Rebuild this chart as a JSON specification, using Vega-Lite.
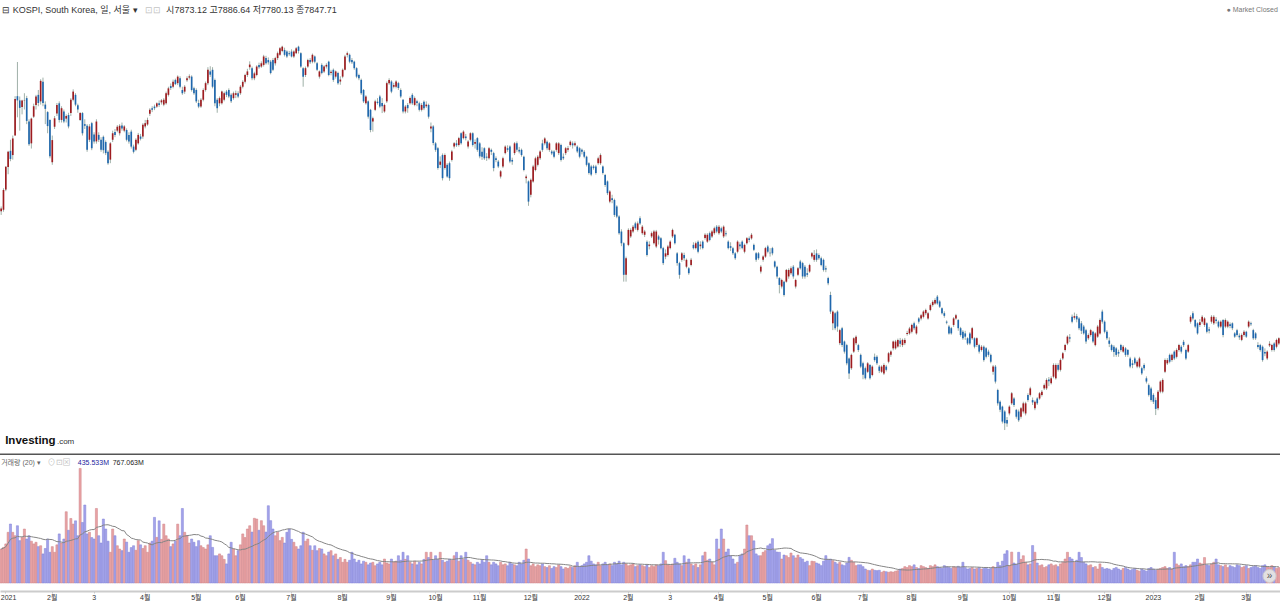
{
  "$schema": "https://vega.github.io/schema/vega-lite/v6.json",
  "description": "KOSPI daily candles with volume and 20-day volume average",
  "width": 1280,
  "height": 591,
  "autosize": "none",
  "padding": {"left": 0, "top": 0, "right": 0, "bottom": 12},
  "background": "#ffffff",
  "config": {"view": {"stroke": null}, "font": "Liberation Sans, Noto Sans CJK KR, sans-serif"},
  "data": {
    "values": [
      {"d":"2020-12-29","o":2807,"h":2822,"l":2796,"c":2816,"v":1870},
      {"d":"2020-12-30","o":2812,"h":2878,"l":2806,"c":2873,"v":1960},
      {"d":"2021-01-04","o":2874,"h":2946,"l":2869,"c":2944,"v":2150},
      {"d":"2021-01-05","o":2943,"h":2993,"l":2921,"c":2990,"v":2788},
      {"d":"2021-01-06","o":2993,"h":3027,"l":2961,"c":2968,"v":3245},
      {"d":"2021-01-07","o":2980,"h":3040,"l":2966,"c":3031,"v":2788},
      {"d":"2021-01-08","o":3040,"h":3161,"l":3040,"c":3152,"v":2600},
      {"d":"2021-01-11","o":3161,"h":3266,"l":3096,"c":3148,"v":3150},
      {"d":"2021-01-12","o":3148,"h":3160,"l":3055,"c":3125,"v":2330},
      {"d":"2021-01-13","o":3128,"h":3150,"l":3105,"c":3148,"v":2500},
      {"d":"2021-01-14","o":3148,"h":3170,"l":3120,"c":3149,"v":2970},
      {"d":"2021-01-15","o":3155,"h":3162,"l":3075,"c":3085,"v":2420},
      {"d":"2021-01-18","o":3083,"h":3090,"l":3008,"c":3013,"v":2600},
      {"d":"2021-01-19","o":3016,"h":3095,"l":3000,"c":3092,"v":2300},
      {"d":"2021-01-20","o":3098,"h":3138,"l":3094,"c":3130,"v":2150},
      {"d":"2021-01-21","o":3134,"h":3165,"l":3120,"c":3160,"v":2240},
      {"d":"2021-01-22","o":3165,"h":3180,"l":3130,"c":3140,"v":2000},
      {"d":"2021-01-25","o":3145,"h":3213,"l":3135,"c":3208,"v":2050},
      {"d":"2021-01-26","o":3205,"h":3218,"l":3130,"c":3140,"v":1600},
      {"d":"2021-01-27","o":3135,"h":3145,"l":3075,"c":3122,"v":1900},
      {"d":"2021-01-28","o":3112,"h":3115,"l":3047,"c":3069,"v":2420},
      {"d":"2021-01-29","o":3088,"h":3090,"l":2970,"c":2976,"v":1690},
      {"d":"2021-02-01","o":2958,"h":3040,"l":2950,"c":3026,"v":2000},
      {"d":"2021-02-02","o":3067,"h":3100,"l":3060,"c":3093,"v":1690},
      {"d":"2021-02-03","o":3108,"h":3140,"l":3100,"c":3134,"v":2100},
      {"d":"2021-02-04","o":3139,"h":3145,"l":3080,"c":3088,"v":2700},
      {"d":"2021-02-05","o":3088,"h":3130,"l":3080,"c":3124,"v":2200},
      {"d":"2021-02-08","o":3114,"h":3120,"l":3078,"c":3083,"v":2420},
      {"d":"2021-02-09","o":3092,"h":3105,"l":3080,"c":3100,"v":3920},
      {"d":"2021-02-10","o":3103,"h":3110,"l":3062,"c":3068,"v":2900},
      {"d":"2021-02-15","o":3109,"h":3155,"l":3100,"c":3150,"v":3550},
      {"d":"2021-02-16","o":3150,"h":3182,"l":3145,"c":3175,"v":3240},
      {"d":"2021-02-17","o":3165,"h":3170,"l":3130,"c":3135,"v":3420},
      {"d":"2021-02-18","o":3133,"h":3138,"l":3110,"c":3120,"v":2600},
      {"d":"2021-02-19","o":3088,"h":3112,"l":3085,"c":3109,"v":6300},
      {"d":"2021-02-22","o":3109,"h":3112,"l":3040,"c":3047,"v":3330},
      {"d":"2021-02-23","o":3075,"h":3090,"l":3060,"c":3070,"v":4290},
      {"d":"2021-02-24","o":3070,"h":3075,"l":2990,"c":2996,"v":2700},
      {"d":"2021-02-25","o":3027,"h":3075,"l":3020,"c":3068,"v":2790},
      {"d":"2021-02-26","o":3078,"h":3082,"l":2995,"c":3001,"v":2500},
      {"d":"2021-03-02","o":3043,"h":3050,"l":3015,"c":3022,"v":2420},
      {"d":"2021-03-03","o":3022,"h":3090,"l":3015,"c":3083,"v":4100},
      {"d":"2021-03-04","o":3042,"h":3050,"l":3020,"c":3027,"v":2600},
      {"d":"2021-03-05","o":3027,"h":3035,"l":2990,"c":2996,"v":2200},
      {"d":"2021-03-08","o":3036,"h":3040,"l":2985,"c":2995,"v":3520},
      {"d":"2021-03-09","o":3020,"h":3025,"l":2980,"c":2986,"v":2970},
      {"d":"2021-03-10","o":2990,"h":2995,"l":2950,"c":2955,"v":2300},
      {"d":"2021-03-11","o":2966,"h":3020,"l":2955,"c":3016,"v":1690},
      {"d":"2021-03-12","o":3027,"h":3055,"l":3020,"c":3047,"v":2970},
      {"d":"2021-03-15","o":3051,"h":3060,"l":3035,"c":3042,"v":2600},
      {"d":"2021-03-16","o":3055,"h":3072,"l":3050,"c":3067,"v":2050},
      {"d":"2021-03-17","o":3047,"h":3075,"l":3040,"c":3070,"v":1870},
      {"d":"2021-03-18","o":3071,"h":3080,"l":3055,"c":3062,"v":1780},
      {"d":"2021-03-19","o":3055,"h":3072,"l":3050,"c":3068,"v":2420},
      {"d":"2021-03-22","o":3057,"h":3062,"l":3022,"c":3027,"v":2250},
      {"d":"2021-03-23","o":3042,"h":3050,"l":3015,"c":3022,"v":1690},
      {"d":"2021-03-24","o":3052,"h":3058,"l":3000,"c":3006,"v":1950},
      {"d":"2021-03-25","o":3006,"h":3012,"l":2985,"c":2990,"v":2050},
      {"d":"2021-03-26","o":2996,"h":3032,"l":2992,"c":3027,"v":1800},
      {"d":"2021-03-29","o":3016,"h":3048,"l":3012,"c":3042,"v":2330},
      {"d":"2021-03-30","o":3037,"h":3045,"l":3025,"c":3030,"v":2100},
      {"d":"2021-03-31","o":3037,"h":3078,"l":3030,"c":3073,"v":1900},
      {"d":"2021-04-01","o":3068,"h":3088,"l":3062,"c":3078,"v":2050},
      {"d":"2021-04-02","o":3074,"h":3095,"l":3070,"c":3088,"v":1690},
      {"d":"2021-04-05","o":3107,"h":3124,"l":3100,"c":3119,"v":2200},
      {"d":"2021-04-06","o":3124,"h":3130,"l":3112,"c":3119,"v":2300},
      {"d":"2021-04-07","o":3129,"h":3135,"l":3118,"c":3124,"v":3610},
      {"d":"2021-04-08","o":3129,"h":3142,"l":3125,"c":3139,"v":2510},
      {"d":"2021-04-09","o":3139,"h":3148,"l":3128,"c":3134,"v":3420},
      {"d":"2021-04-12","o":3142,"h":3152,"l":3135,"c":3148,"v":2400},
      {"d":"2021-04-13","o":3135,"h":3155,"l":3130,"c":3150,"v":3240},
      {"d":"2021-04-14","o":3139,"h":3175,"l":3135,"c":3170,"v":2600},
      {"d":"2021-04-15","o":3165,"h":3190,"l":3160,"c":3185,"v":2420},
      {"d":"2021-04-16","o":3192,"h":3200,"l":3180,"c":3186,"v":2000},
      {"d":"2021-04-19","o":3190,"h":3212,"l":3185,"c":3205,"v":2150},
      {"d":"2021-04-20","o":3211,"h":3215,"l":3195,"c":3198,"v":2300},
      {"d":"2021-04-21","o":3201,"h":3225,"l":3195,"c":3221,"v":3240},
      {"d":"2021-04-22","o":3216,"h":3222,"l":3185,"c":3190,"v":2600},
      {"d":"2021-04-23","o":3180,"h":3190,"l":3165,"c":3170,"v":4100},
      {"d":"2021-04-26","o":3175,"h":3195,"l":3168,"c":3190,"v":2790},
      {"d":"2021-04-27","o":3210,"h":3222,"l":3205,"c":3216,"v":2600},
      {"d":"2021-04-28","o":3218,"h":3228,"l":3212,"c":3222,"v":2200},
      {"d":"2021-04-29","o":3221,"h":3225,"l":3175,"c":3180,"v":2420},
      {"d":"2021-04-30","o":3185,"h":3190,"l":3165,"c":3170,"v":2240},
      {"d":"2021-05-03","o":3180,"h":3185,"l":3140,"c":3145,"v":2000},
      {"d":"2021-05-04","o":3140,"h":3150,"l":3124,"c":3129,"v":2330},
      {"d":"2021-05-06","o":3129,"h":3155,"l":3125,"c":3150,"v":2050},
      {"d":"2021-05-07","o":3150,"h":3185,"l":3145,"c":3180,"v":1950},
      {"d":"2021-05-10","o":3180,"h":3206,"l":3175,"c":3201,"v":1870},
      {"d":"2021-05-11","o":3201,"h":3250,"l":3195,"c":3242,"v":2100},
      {"d":"2021-05-12","o":3237,"h":3253,"l":3220,"c":3227,"v":2600},
      {"d":"2021-05-13","o":3242,"h":3250,"l":3185,"c":3190,"v":1960},
      {"d":"2021-05-14","o":3211,"h":3215,"l":3130,"c":3139,"v":1500},
      {"d":"2021-05-17","o":3150,"h":3155,"l":3110,"c":3124,"v":1500},
      {"d":"2021-05-18","o":3139,"h":3160,"l":3130,"c":3155,"v":1600},
      {"d":"2021-05-20","o":3139,"h":3178,"l":3135,"c":3175,"v":1500},
      {"d":"2021-05-21","o":3150,"h":3175,"l":3145,"c":3170,"v":1300},
      {"d":"2021-05-24","o":3175,"h":3180,"l":3158,"c":3165,"v":1050},
      {"d":"2021-05-25","o":3180,"h":3185,"l":3155,"c":3160,"v":1600},
      {"d":"2021-05-26","o":3165,"h":3170,"l":3140,"c":3145,"v":2240},
      {"d":"2021-05-27","o":3155,"h":3175,"l":3150,"c":3170,"v":1870},
      {"d":"2021-05-28","o":3165,"h":3178,"l":3155,"c":3170,"v":1500},
      {"d":"2021-05-31","o":3170,"h":3176,"l":3155,"c":3160,"v":1780},
      {"d":"2021-06-01","o":3170,"h":3195,"l":3165,"c":3190,"v":2100},
      {"d":"2021-06-02","o":3190,"h":3210,"l":3185,"c":3205,"v":2700},
      {"d":"2021-06-03","o":3205,"h":3230,"l":3200,"c":3226,"v":2500},
      {"d":"2021-06-04","o":3226,"h":3245,"l":3220,"c":3237,"v":2970},
      {"d":"2021-06-07","o":3250,"h":3268,"l":3242,"c":3258,"v":3150},
      {"d":"2021-06-08","o":3247,"h":3252,"l":3210,"c":3216,"v":2800},
      {"d":"2021-06-09","o":3216,"h":3236,"l":3210,"c":3231,"v":3560},
      {"d":"2021-06-10","o":3226,"h":3256,"l":3222,"c":3252,"v":3520},
      {"d":"2021-06-11","o":3257,"h":3264,"l":3245,"c":3250,"v":2900},
      {"d":"2021-06-14","o":3252,"h":3268,"l":3248,"c":3262,"v":3430},
      {"d":"2021-06-15","o":3257,"h":3288,"l":3252,"c":3283,"v":3150},
      {"d":"2021-06-16","o":3278,"h":3285,"l":3258,"c":3262,"v":2800},
      {"d":"2021-06-17","o":3272,"h":3280,"l":3258,"c":3265,"v":4250},
      {"d":"2021-06-18","o":3267,"h":3272,"l":3228,"c":3232,"v":3430},
      {"d":"2021-06-21","o":3272,"h":3278,"l":3238,"c":3242,"v":2970},
      {"d":"2021-06-22","o":3262,"h":3282,"l":3255,"c":3278,"v":2600},
      {"d":"2021-06-23","o":3278,"h":3298,"l":3272,"c":3293,"v":2790},
      {"d":"2021-06-24","o":3288,"h":3312,"l":3285,"c":3308,"v":2330},
      {"d":"2021-06-25","o":3300,"h":3316,"l":3296,"c":3313,"v":2510},
      {"d":"2021-06-28","o":3303,"h":3310,"l":3283,"c":3288,"v":2200},
      {"d":"2021-06-29","o":3298,"h":3302,"l":3278,"c":3283,"v":2790},
      {"d":"2021-06-30","o":3293,"h":3300,"l":3285,"c":3290,"v":2970},
      {"d":"2021-07-01","o":3298,"h":3305,"l":3280,"c":3283,"v":2400},
      {"d":"2021-07-02","o":3283,"h":3302,"l":3278,"c":3298,"v":2240},
      {"d":"2021-07-05","o":3293,"h":3312,"l":3290,"c":3308,"v":2000},
      {"d":"2021-07-06","o":3313,"h":3316,"l":3292,"c":3300,"v":1870},
      {"d":"2021-07-07","o":3293,"h":3296,"l":3248,"c":3252,"v":2050},
      {"d":"2021-07-08","o":3247,"h":3250,"l":3190,"c":3221,"v":2790},
      {"d":"2021-07-09","o":3226,"h":3252,"l":3220,"c":3247,"v":2300},
      {"d":"2021-07-12","o":3252,"h":3276,"l":3248,"c":3272,"v":2420},
      {"d":"2021-07-13","o":3272,"h":3278,"l":3260,"c":3265,"v":2050},
      {"d":"2021-07-14","o":3267,"h":3292,"l":3262,"c":3288,"v":1800},
      {"d":"2021-07-15","o":3283,"h":3286,"l":3262,"c":3267,"v":2050},
      {"d":"2021-07-16","o":3262,"h":3266,"l":3238,"c":3242,"v":1780},
      {"d":"2021-07-19","o":3221,"h":3240,"l":3215,"c":3237,"v":1900},
      {"d":"2021-07-20","o":3257,"h":3262,"l":3228,"c":3232,"v":1870},
      {"d":"2021-07-21","o":3237,"h":3256,"l":3232,"c":3252,"v":1600},
      {"d":"2021-07-22","o":3252,"h":3262,"l":3246,"c":3257,"v":1500},
      {"d":"2021-07-23","o":3267,"h":3270,"l":3222,"c":3226,"v":1700},
      {"d":"2021-07-26","o":3232,"h":3242,"l":3225,"c":3236,"v":1780},
      {"d":"2021-07-27","o":3242,"h":3246,"l":3205,"c":3211,"v":1500},
      {"d":"2021-07-28","o":3221,"h":3240,"l":3215,"c":3237,"v":1600},
      {"d":"2021-07-29","o":3232,"h":3236,"l":3196,"c":3201,"v":1300},
      {"d":"2021-07-30","o":3206,"h":3222,"l":3196,"c":3212,"v":1400},
      {"d":"2021-08-02","o":3221,"h":3246,"l":3216,"c":3242,"v":1140},
      {"d":"2021-08-03","o":3242,"h":3288,"l":3240,"c":3283,"v":1300},
      {"d":"2021-08-04","o":3288,"h":3298,"l":3280,"c":3293,"v":1140},
      {"d":"2021-08-05","o":3288,"h":3292,"l":3262,"c":3267,"v":1250},
      {"d":"2021-08-06","o":3272,"h":3278,"l":3260,"c":3265,"v":1690},
      {"d":"2021-08-09","o":3267,"h":3270,"l":3242,"c":3247,"v":1320},
      {"d":"2021-08-10","o":3247,"h":3250,"l":3216,"c":3221,"v":1140},
      {"d":"2021-08-11","o":3226,"h":3230,"l":3210,"c":3216,"v":1250},
      {"d":"2021-08-12","o":3211,"h":3215,"l":3165,"c":3170,"v":1050},
      {"d":"2021-08-13","o":3180,"h":3183,"l":3140,"c":3145,"v":1200},
      {"d":"2021-08-17","o":3139,"h":3164,"l":3135,"c":3160,"v":1140},
      {"d":"2021-08-18","o":3145,"h":3148,"l":3092,"c":3098,"v":1000},
      {"d":"2021-08-19","o":3119,"h":3122,"l":3050,"c":3057,"v":1100},
      {"d":"2021-08-20","o":3083,"h":3098,"l":3052,"c":3093,"v":1140},
      {"d":"2021-08-23","o":3119,"h":3150,"l":3115,"c":3145,"v":950},
      {"d":"2021-08-24","o":3144,"h":3155,"l":3135,"c":3140,"v":1050},
      {"d":"2021-08-25","o":3160,"h":3165,"l":3124,"c":3129,"v":1140},
      {"d":"2021-08-26","o":3140,"h":3155,"l":3109,"c":3130,"v":1000},
      {"d":"2021-08-27","o":3114,"h":3138,"l":3110,"c":3134,"v":1320},
      {"d":"2021-08-30","o":3145,"h":3206,"l":3140,"c":3201,"v":1100},
      {"d":"2021-08-31","o":3201,"h":3216,"l":3196,"c":3211,"v":1050},
      {"d":"2021-09-01","o":3206,"h":3210,"l":3170,"c":3175,"v":1320},
      {"d":"2021-09-02","o":3190,"h":3202,"l":3185,"c":3195,"v":1150},
      {"d":"2021-09-03","o":3190,"h":3210,"l":3185,"c":3206,"v":1200},
      {"d":"2021-09-06","o":3201,"h":3205,"l":3180,"c":3186,"v":1500},
      {"d":"2021-09-07","o":3180,"h":3185,"l":3155,"c":3160,"v":1250},
      {"d":"2021-09-08","o":3150,"h":3152,"l":3108,"c":3114,"v":1690},
      {"d":"2021-09-09","o":3114,"h":3134,"l":3108,"c":3129,"v":1300},
      {"d":"2021-09-10","o":3134,"h":3140,"l":3110,"c":3124,"v":1500},
      {"d":"2021-09-13","o":3139,"h":3160,"l":3135,"c":3155,"v":1140},
      {"d":"2021-09-14","o":3165,"h":3170,"l":3134,"c":3139,"v":1050},
      {"d":"2021-09-15","o":3134,"h":3160,"l":3130,"c":3155,"v":1200},
      {"d":"2021-09-16","o":3145,"h":3150,"l":3130,"c":3140,"v":1000},
      {"d":"2021-09-17","o":3139,"h":3144,"l":3114,"c":3119,"v":1140},
      {"d":"2021-09-23","o":3119,"h":3140,"l":3114,"c":3134,"v":1050},
      {"d":"2021-09-24","o":3144,"h":3148,"l":3118,"c":3124,"v":1300},
      {"d":"2021-09-27","o":3130,"h":3145,"l":3125,"c":3135,"v":1690},
      {"d":"2021-09-28","o":3134,"h":3138,"l":3092,"c":3098,"v":1400},
      {"d":"2021-09-29","o":3062,"h":3080,"l":3050,"c":3068,"v":1690},
      {"d":"2021-09-30","o":3068,"h":3072,"l":3010,"c":3017,"v":1250},
      {"d":"2021-10-01","o":3016,"h":3020,"l":2990,"c":2996,"v":1500},
      {"d":"2021-10-05","o":3001,"h":3005,"l":2935,"c":2940,"v":1300},
      {"d":"2021-10-06","o":2950,"h":2976,"l":2940,"c":2960,"v":1690},
      {"d":"2021-10-07","o":2980,"h":2985,"l":2902,"c":2909,"v":1250},
      {"d":"2021-10-08","o":2940,"h":2985,"l":2935,"c":2980,"v":1140},
      {"d":"2021-10-12","o":2950,"h":2955,"l":2910,"c":2914,"v":1200},
      {"d":"2021-10-13","o":2955,"h":2960,"l":2901,"c":2909,"v":1320},
      {"d":"2021-10-14","o":2965,"h":2996,"l":2960,"c":2991,"v":1250},
      {"d":"2021-10-15","o":3006,"h":3020,"l":3000,"c":3016,"v":1500},
      {"d":"2021-10-18","o":3016,"h":3026,"l":3005,"c":3010,"v":1690},
      {"d":"2021-10-19","o":3011,"h":3036,"l":3006,"c":3032,"v":1200},
      {"d":"2021-10-20","o":3047,"h":3050,"l":3012,"c":3016,"v":1500},
      {"d":"2021-10-21","o":3032,"h":3056,"l":3028,"c":3052,"v":1300},
      {"d":"2021-10-22","o":3037,"h":3045,"l":3025,"c":3032,"v":1690},
      {"d":"2021-10-25","o":3006,"h":3026,"l":3000,"c":3022,"v":1250},
      {"d":"2021-10-26","o":3027,"h":3050,"l":3022,"c":3047,"v":1140},
      {"d":"2021-10-27","o":3047,"h":3050,"l":3006,"c":3011,"v":1050},
      {"d":"2021-10-28","o":3015,"h":3028,"l":3000,"c":3020,"v":1000},
      {"d":"2021-10-29","o":3032,"h":3035,"l":2990,"c":2996,"v":1140},
      {"d":"2021-11-01","o":3016,"h":3020,"l":2970,"c":2976,"v":1050},
      {"d":"2021-11-02","o":2990,"h":3004,"l":2965,"c":2975,"v":1250},
      {"d":"2021-11-03","o":3001,"h":3004,"l":2965,"c":2970,"v":1140},
      {"d":"2021-11-04","o":2975,"h":2986,"l":2962,"c":2972,"v":1500},
      {"d":"2021-11-05","o":2970,"h":3005,"l":2966,"c":3001,"v":1140},
      {"d":"2021-11-08","o":2996,"h":3000,"l":2980,"c":2990,"v":1000},
      {"d":"2021-11-09","o":2986,"h":2990,"l":2930,"c":2940,"v":1140},
      {"d":"2021-11-10","o":2970,"h":2976,"l":2958,"c":2965,"v":1050},
      {"d":"2021-11-11","o":2960,"h":2965,"l":2940,"c":2945,"v":950},
      {"d":"2021-11-12","o":2914,"h":2934,"l":2908,"c":2930,"v":1140},
      {"d":"2021-11-15","o":2945,"h":2975,"l":2940,"c":2970,"v":1000},
      {"d":"2021-11-16","o":2986,"h":3010,"l":2982,"c":3006,"v":1050},
      {"d":"2021-11-17","o":3001,"h":3010,"l":2990,"c":2996,"v":950},
      {"d":"2021-11-18","o":3006,"h":3010,"l":2955,"c":2960,"v":1140},
      {"d":"2021-11-19","o":2965,"h":2972,"l":2950,"c":2960,"v":1050},
      {"d":"2021-11-22","o":2986,"h":3020,"l":2980,"c":3016,"v":1000},
      {"d":"2021-11-23","o":3016,"h":3022,"l":2990,"c":2996,"v":950},
      {"d":"2021-11-24","o":2996,"h":3005,"l":2985,"c":2991,"v":1140},
      {"d":"2021-11-25","o":2996,"h":3000,"l":2975,"c":2980,"v":1050},
      {"d":"2021-11-26","o":2975,"h":2978,"l":2930,"c":2934,"v":1250},
      {"d":"2021-11-29","o":2909,"h":2920,"l":2893,"c":2914,"v":1870},
      {"d":"2021-11-30","o":2899,"h":2902,"l":2824,"c":2837,"v":1320},
      {"d":"2021-12-01","o":2858,"h":2908,"l":2850,"c":2904,"v":950},
      {"d":"2021-12-02","o":2899,"h":2950,"l":2895,"c":2945,"v":1050},
      {"d":"2021-12-03","o":2934,"h":2975,"l":2930,"c":2970,"v":900},
      {"d":"2021-12-06","o":2950,"h":2980,"l":2945,"c":2975,"v":1000},
      {"d":"2021-12-07","o":2970,"h":2995,"l":2965,"c":2991,"v":950},
      {"d":"2021-12-08","o":3016,"h":3027,"l":2990,"c":2996,"v":1050},
      {"d":"2021-12-09","o":3016,"h":3035,"l":3010,"c":3031,"v":900},
      {"d":"2021-12-10","o":3021,"h":3025,"l":2995,"c":3001,"v":850},
      {"d":"2021-12-13","o":2996,"h":3020,"l":2990,"c":3016,"v":950},
      {"d":"2021-12-14","o":2991,"h":2996,"l":2980,"c":2985,"v":800},
      {"d":"2021-12-15","o":2991,"h":2995,"l":2970,"c":2975,"v":900},
      {"d":"2021-12-16","o":2996,"h":3020,"l":2990,"c":3016,"v":850},
      {"d":"2021-12-17","o":2986,"h":3020,"l":2980,"c":3016,"v":1000},
      {"d":"2021-12-20","o":3011,"h":3015,"l":2960,"c":2965,"v":900},
      {"d":"2021-12-21","o":2975,"h":2985,"l":2965,"c":2970,"v":770},
      {"d":"2021-12-22","o":2986,"h":3005,"l":2980,"c":3001,"v":850},
      {"d":"2021-12-23","o":2996,"h":3008,"l":2990,"c":3001,"v":800},
      {"d":"2021-12-24","o":3011,"h":3025,"l":3006,"c":3021,"v":900},
      {"d":"2021-12-27","o":3016,"h":3022,"l":3000,"c":3010,"v":850},
      {"d":"2021-12-28","o":3010,"h":3022,"l":3006,"c":3016,"v":950},
      {"d":"2021-12-29","o":3006,"h":3010,"l":2986,"c":2991,"v":1140},
      {"d":"2021-12-30","o":3001,"h":3005,"l":2970,"c":2975,"v":900},
      {"d":"2022-01-03","o":2996,"h":3000,"l":2982,"c":2990,"v":955},
      {"d":"2022-01-04","o":2990,"h":2995,"l":2970,"c":2975,"v":1050},
      {"d":"2022-01-05","o":2975,"h":2978,"l":2945,"c":2950,"v":1140},
      {"d":"2022-01-06","o":2955,"h":2958,"l":2920,"c":2925,"v":1500},
      {"d":"2022-01-07","o":2945,"h":2950,"l":2915,"c":2920,"v":1200},
      {"d":"2022-01-10","o":2945,"h":2950,"l":2935,"c":2940,"v":1050},
      {"d":"2022-01-11","o":2945,"h":2950,"l":2920,"c":2925,"v":1000},
      {"d":"2022-01-12","o":2955,"h":2975,"l":2950,"c":2970,"v":1140},
      {"d":"2022-01-13","o":2955,"h":2985,"l":2950,"c":2980,"v":950},
      {"d":"2022-01-14","o":2945,"h":2948,"l":2920,"c":2925,"v":1050},
      {"d":"2022-01-17","o":2919,"h":2922,"l":2882,"c":2888,"v":1140},
      {"d":"2022-01-18","o":2899,"h":2902,"l":2857,"c":2863,"v":1000},
      {"d":"2022-01-19","o":2837,"h":2872,"l":2832,"c":2868,"v":1050},
      {"d":"2022-01-20","o":2847,"h":2858,"l":2832,"c":2842,"v":955},
      {"d":"2022-01-21","o":2842,"h":2846,"l":2790,"c":2796,"v":1140},
      {"d":"2022-01-24","o":2822,"h":2826,"l":2786,"c":2791,"v":1050},
      {"d":"2022-01-25","o":2791,"h":2795,"l":2735,"c":2740,"v":1200},
      {"d":"2022-01-26","o":2745,"h":2752,"l":2700,"c":2709,"v":1000},
      {"d":"2022-01-27","o":2709,"h":2712,"l":2591,"c":2612,"v":1140},
      {"d":"2022-01-28","o":2612,"h":2668,"l":2591,"c":2663,"v":1050},
      {"d":"2022-02-03","o":2704,"h":2755,"l":2700,"c":2750,"v":950},
      {"d":"2022-02-04","o":2730,"h":2755,"l":2725,"c":2750,"v":1000},
      {"d":"2022-02-07","o":2745,"h":2765,"l":2740,"c":2760,"v":1050},
      {"d":"2022-02-08","o":2770,"h":2775,"l":2750,"c":2755,"v":900},
      {"d":"2022-02-09","o":2750,"h":2776,"l":2745,"c":2770,"v":955},
      {"d":"2022-02-10","o":2786,"h":2792,"l":2765,"c":2770,"v":1000},
      {"d":"2022-02-11","o":2740,"h":2765,"l":2735,"c":2760,"v":955},
      {"d":"2022-02-14","o":2735,"h":2750,"l":2728,"c":2745,"v":900},
      {"d":"2022-02-15","o":2714,"h":2718,"l":2668,"c":2673,"v":1000},
      {"d":"2022-02-16","o":2700,"h":2715,"l":2690,"c":2705,"v":850},
      {"d":"2022-02-17","o":2730,"h":2745,"l":2725,"c":2740,"v":955},
      {"d":"2022-02-18","o":2709,"h":2750,"l":2705,"c":2745,"v":900},
      {"d":"2022-02-21","o":2699,"h":2750,"l":2694,"c":2745,"v":1000},
      {"d":"2022-02-22","o":2730,"h":2735,"l":2705,"c":2720,"v":955},
      {"d":"2022-02-23","o":2724,"h":2728,"l":2690,"c":2694,"v":1050},
      {"d":"2022-02-24","o":2694,"h":2698,"l":2642,"c":2648,"v":1690},
      {"d":"2022-02-25","o":2668,"h":2690,"l":2660,"c":2678,"v":1230},
      {"d":"2022-02-28","o":2673,"h":2704,"l":2668,"c":2699,"v":1000},
      {"d":"2022-03-02","o":2694,"h":2718,"l":2690,"c":2714,"v":955},
      {"d":"2022-03-03","o":2730,"h":2754,"l":2725,"c":2750,"v":1050},
      {"d":"2022-03-04","o":2735,"h":2738,"l":2705,"c":2709,"v":1360},
      {"d":"2022-03-07","o":2678,"h":2682,"l":2640,"c":2648,"v":1140},
      {"d":"2022-03-08","o":2648,"h":2652,"l":2600,"c":2612,"v":1050},
      {"d":"2022-03-10","o":2658,"h":2682,"l":2652,"c":2678,"v":955},
      {"d":"2022-03-11","o":2673,"h":2680,"l":2655,"c":2663,"v":1500},
      {"d":"2022-03-14","o":2637,"h":2662,"l":2632,"c":2658,"v":1140},
      {"d":"2022-03-15","o":2632,"h":2636,"l":2612,"c":2617,"v":1320},
      {"d":"2022-03-16","o":2642,"h":2664,"l":2638,"c":2658,"v":1050},
      {"d":"2022-03-17","o":2704,"h":2712,"l":2690,"c":2694,"v":955},
      {"d":"2022-03-18","o":2694,"h":2714,"l":2690,"c":2709,"v":1050},
      {"d":"2022-03-21","o":2714,"h":2718,"l":2678,"c":2683,"v":850},
      {"d":"2022-03-22","o":2700,"h":2715,"l":2690,"c":2705,"v":1000},
      {"d":"2022-03-23","o":2714,"h":2718,"l":2690,"c":2694,"v":1500},
      {"d":"2022-03-24","o":2725,"h":2740,"l":2720,"c":2735,"v":1700},
      {"d":"2022-03-25","o":2714,"h":2740,"l":2710,"c":2735,"v":1250},
      {"d":"2022-03-28","o":2740,"h":2745,"l":2715,"c":2719,"v":1320},
      {"d":"2022-03-29","o":2730,"h":2750,"l":2725,"c":2745,"v":1140},
      {"d":"2022-03-30","o":2740,"h":2760,"l":2735,"c":2755,"v":1000},
      {"d":"2022-03-31","o":2760,"h":2765,"l":2740,"c":2745,"v":2420},
      {"d":"2022-04-01","o":2740,"h":2765,"l":2735,"c":2760,"v":1870},
      {"d":"2022-04-04","o":2755,"h":2760,"l":2740,"c":2745,"v":2970},
      {"d":"2022-04-05","o":2730,"h":2764,"l":2725,"c":2760,"v":2420},
      {"d":"2022-04-06","o":2740,"h":2748,"l":2730,"c":2737,"v":1700},
      {"d":"2022-04-07","o":2714,"h":2718,"l":2690,"c":2694,"v":1870},
      {"d":"2022-04-08","o":2700,"h":2712,"l":2685,"c":2695,"v":1500},
      {"d":"2022-04-11","o":2694,"h":2698,"l":2673,"c":2678,"v":1320},
      {"d":"2022-04-12","o":2678,"h":2682,"l":2658,"c":2663,"v":1050},
      {"d":"2022-04-13","o":2683,"h":2718,"l":2678,"c":2714,"v":1140},
      {"d":"2022-04-14","o":2705,"h":2712,"l":2690,"c":2700,"v":1500},
      {"d":"2022-04-15","o":2714,"h":2718,"l":2690,"c":2694,"v":1600},
      {"d":"2022-04-18","o":2683,"h":2708,"l":2678,"c":2704,"v":1870},
      {"d":"2022-04-19","o":2709,"h":2728,"l":2705,"c":2724,"v":3190},
      {"d":"2022-04-20","o":2724,"h":2730,"l":2712,"c":2719,"v":2600},
      {"d":"2022-04-21","o":2724,"h":2740,"l":2720,"c":2735,"v":2600},
      {"d":"2022-04-22","o":2704,"h":2708,"l":2685,"c":2689,"v":2320},
      {"d":"2022-04-25","o":2678,"h":2682,"l":2652,"c":2658,"v":1600},
      {"d":"2022-04-26","o":2678,"h":2682,"l":2658,"c":2663,"v":1500},
      {"d":"2022-04-27","o":2622,"h":2642,"l":2616,"c":2637,"v":1500},
      {"d":"2022-04-28","o":2658,"h":2672,"l":2652,"c":2668,"v":1690},
      {"d":"2022-04-29","o":2668,"h":2698,"l":2664,"c":2694,"v":1780},
      {"d":"2022-05-02","o":2699,"h":2704,"l":2678,"c":2683,"v":2050},
      {"d":"2022-05-03","o":2680,"h":2694,"l":2668,"c":2678,"v":2150},
      {"d":"2022-05-04","o":2694,"h":2698,"l":2672,"c":2678,"v":2440},
      {"d":"2022-05-06","o":2653,"h":2656,"l":2632,"c":2637,"v":1800},
      {"d":"2022-05-09","o":2637,"h":2640,"l":2600,"c":2607,"v":1700},
      {"d":"2022-05-10","o":2602,"h":2605,"l":2555,"c":2581,"v":1690},
      {"d":"2022-05-11","o":2576,"h":2600,"l":2570,"c":2596,"v":1320},
      {"d":"2022-05-12","o":2591,"h":2594,"l":2545,"c":2550,"v":1540},
      {"d":"2022-05-13","o":2591,"h":2630,"l":2588,"c":2627,"v":1500},
      {"d":"2022-05-16","o":2607,"h":2632,"l":2600,"c":2627,"v":1400},
      {"d":"2022-05-17","o":2617,"h":2638,"l":2612,"c":2632,"v":1650},
      {"d":"2022-05-18","o":2637,"h":2642,"l":2600,"c":2607,"v":1500},
      {"d":"2022-05-19","o":2576,"h":2600,"l":2570,"c":2596,"v":1380},
      {"d":"2022-05-20","o":2612,"h":2636,"l":2608,"c":2632,"v":1540},
      {"d":"2022-05-23","o":2653,"h":2658,"l":2628,"c":2632,"v":1400},
      {"d":"2022-05-24","o":2648,"h":2652,"l":2600,"c":2607,"v":1320},
      {"d":"2022-05-25","o":2637,"h":2642,"l":2600,"c":2607,"v":1140},
      {"d":"2022-05-26","o":2617,"h":2632,"l":2605,"c":2612,"v":1200},
      {"d":"2022-05-27","o":2622,"h":2646,"l":2618,"c":2642,"v":955},
      {"d":"2022-05-30","o":2668,"h":2682,"l":2662,"c":2678,"v":1200},
      {"d":"2022-05-31","o":2658,"h":2688,"l":2652,"c":2673,"v":1180},
      {"d":"2022-06-02","o":2678,"h":2690,"l":2652,"c":2658,"v":1100},
      {"d":"2022-06-03","o":2673,"h":2678,"l":2658,"c":2663,"v":1050},
      {"d":"2022-06-07","o":2663,"h":2668,"l":2638,"c":2642,"v":955},
      {"d":"2022-06-08","o":2658,"h":2662,"l":2622,"c":2627,"v":1200},
      {"d":"2022-06-09","o":2632,"h":2640,"l":2620,"c":2628,"v":1505},
      {"d":"2022-06-10","o":2602,"h":2606,"l":2580,"c":2586,"v":1300},
      {"d":"2022-06-13","o":2550,"h":2560,"l":2492,"c":2499,"v":1320},
      {"d":"2022-06-14","o":2463,"h":2503,"l":2442,"c":2499,"v":1230},
      {"d":"2022-06-15","o":2494,"h":2498,"l":2442,"c":2448,"v":1140},
      {"d":"2022-06-16","o":2499,"h":2503,"l":2437,"c":2453,"v":1050},
      {"d":"2022-06-17","o":2402,"h":2446,"l":2396,"c":2442,"v":1140},
      {"d":"2022-06-20","o":2448,"h":2452,"l":2390,"c":2396,"v":1000},
      {"d":"2022-06-21","o":2407,"h":2410,"l":2370,"c":2376,"v":955},
      {"d":"2022-06-22","o":2396,"h":2400,"l":2334,"c":2340,"v":1100},
      {"d":"2022-06-23","o":2355,"h":2358,"l":2292,"c":2309,"v":1410},
      {"d":"2022-06-24","o":2325,"h":2370,"l":2320,"c":2366,"v":1250},
      {"d":"2022-06-27","o":2376,"h":2420,"l":2372,"c":2417,"v":1140},
      {"d":"2022-06-28","o":2402,"h":2426,"l":2396,"c":2422,"v":955},
      {"d":"2022-06-29","o":2396,"h":2400,"l":2375,"c":2381,"v":1000},
      {"d":"2022-06-30","o":2366,"h":2370,"l":2325,"c":2330,"v":1000},
      {"d":"2022-07-01","o":2340,"h":2345,"l":2291,"c":2305,"v":900},
      {"d":"2022-07-04","o":2325,"h":2330,"l":2290,"c":2294,"v":770},
      {"d":"2022-07-05","o":2314,"h":2344,"l":2310,"c":2340,"v":700},
      {"d":"2022-07-06","o":2335,"h":2338,"l":2290,"c":2294,"v":680},
      {"d":"2022-07-07","o":2304,"h":2334,"l":2300,"c":2330,"v":770},
      {"d":"2022-07-08","o":2360,"h":2370,"l":2345,"c":2350,"v":700},
      {"d":"2022-07-11","o":2360,"h":2365,"l":2335,"c":2340,"v":680},
      {"d":"2022-07-12","o":2330,"h":2335,"l":2310,"c":2317,"v":700},
      {"d":"2022-07-13","o":2314,"h":2334,"l":2310,"c":2330,"v":590},
      {"d":"2022-07-14","o":2309,"h":2340,"l":2304,"c":2335,"v":650},
      {"d":"2022-07-15","o":2330,"h":2335,"l":2315,"c":2320,"v":620},
      {"d":"2022-07-18","o":2345,"h":2375,"l":2340,"c":2371,"v":590},
      {"d":"2022-07-19","o":2366,"h":2380,"l":2360,"c":2376,"v":620},
      {"d":"2022-07-20","o":2386,"h":2410,"l":2380,"c":2407,"v":600},
      {"d":"2022-07-21","o":2386,"h":2412,"l":2382,"c":2407,"v":650},
      {"d":"2022-07-22","o":2392,"h":2416,"l":2388,"c":2412,"v":680},
      {"d":"2022-07-25","o":2410,"h":2418,"l":2390,"c":2400,"v":770},
      {"d":"2022-07-26","o":2396,"h":2416,"l":2390,"c":2412,"v":800},
      {"d":"2022-07-27","o":2402,"h":2418,"l":2396,"c":2412,"v":900},
      {"d":"2022-07-28","o":2430,"h":2440,"l":2425,"c":2433,"v":850},
      {"d":"2022-07-29","o":2432,"h":2452,"l":2428,"c":2447,"v":955},
      {"d":"2022-08-01","o":2437,"h":2462,"l":2432,"c":2458,"v":900},
      {"d":"2022-08-02","o":2463,"h":2468,"l":2442,"c":2448,"v":1000},
      {"d":"2022-08-03","o":2432,"h":2458,"l":2428,"c":2453,"v":850},
      {"d":"2022-08-04","o":2478,"h":2482,"l":2462,"c":2468,"v":800},
      {"d":"2022-08-05","o":2478,"h":2492,"l":2472,"c":2488,"v":955},
      {"d":"2022-08-08","o":2483,"h":2503,"l":2478,"c":2499,"v":900},
      {"d":"2022-08-09","o":2494,"h":2508,"l":2488,"c":2504,"v":850},
      {"d":"2022-08-10","o":2478,"h":2498,"l":2474,"c":2494,"v":800},
      {"d":"2022-08-11","o":2504,"h":2524,"l":2500,"c":2519,"v":955},
      {"d":"2022-08-12","o":2519,"h":2534,"l":2514,"c":2529,"v":900},
      {"d":"2022-08-16","o":2524,"h":2540,"l":2520,"c":2535,"v":1000},
      {"d":"2022-08-17","o":2545,"h":2550,"l":2520,"c":2524,"v":900},
      {"d":"2022-08-18","o":2530,"h":2534,"l":2510,"c":2514,"v":850},
      {"d":"2022-08-19","o":2509,"h":2512,"l":2490,"c":2494,"v":800},
      {"d":"2022-08-22","o":2494,"h":2500,"l":2480,"c":2486,"v":955},
      {"d":"2022-08-23","o":2468,"h":2472,"l":2460,"c":2465,"v":900},
      {"d":"2022-08-24","o":2453,"h":2458,"l":2428,"c":2432,"v":850},
      {"d":"2022-08-25","o":2448,"h":2452,"l":2428,"c":2432,"v":800},
      {"d":"2022-08-26","o":2458,"h":2482,"l":2452,"c":2478,"v":900},
      {"d":"2022-08-29","o":2478,"h":2492,"l":2474,"c":2488,"v":850},
      {"d":"2022-08-30","o":2473,"h":2476,"l":2440,"c":2448,"v":920},
      {"d":"2022-08-31","o":2448,"h":2452,"l":2422,"c":2427,"v":850},
      {"d":"2022-09-01","o":2437,"h":2442,"l":2412,"c":2417,"v":1140},
      {"d":"2022-09-02","o":2432,"h":2440,"l":2412,"c":2422,"v":850},
      {"d":"2022-09-05","o":2417,"h":2420,"l":2396,"c":2401,"v":770},
      {"d":"2022-09-06","o":2432,"h":2436,"l":2396,"c":2401,"v":800},
      {"d":"2022-09-07","o":2417,"h":2452,"l":2412,"c":2448,"v":850},
      {"d":"2022-09-08","o":2417,"h":2420,"l":2386,"c":2391,"v":770},
      {"d":"2022-09-13","o":2396,"h":2420,"l":2390,"c":2417,"v":800},
      {"d":"2022-09-14","o":2396,"h":2400,"l":2370,"c":2376,"v":850},
      {"d":"2022-09-15","o":2381,"h":2396,"l":2376,"c":2391,"v":770},
      {"d":"2022-09-16","o":2391,"h":2395,"l":2345,"c":2350,"v":800},
      {"d":"2022-09-19","o":2386,"h":2390,"l":2355,"c":2360,"v":850},
      {"d":"2022-09-20","o":2376,"h":2382,"l":2360,"c":2366,"v":770},
      {"d":"2022-09-21","o":2366,"h":2370,"l":2340,"c":2345,"v":800},
      {"d":"2022-09-22","o":2314,"h":2335,"l":2305,"c":2330,"v":900},
      {"d":"2022-09-23","o":2330,"h":2335,"l":2278,"c":2284,"v":850},
      {"d":"2022-09-26","o":2258,"h":2262,"l":2210,"c":2217,"v":1140},
      {"d":"2022-09-27","o":2222,"h":2226,"l":2190,"c":2197,"v":955},
      {"d":"2022-09-28","o":2207,"h":2210,"l":2155,"c":2161,"v":1200},
      {"d":"2022-09-29","o":2192,"h":2196,"l":2135,"c":2156,"v":1600},
      {"d":"2022-09-30","o":2166,"h":2175,"l":2145,"c":2155,"v":1780},
      {"d":"2022-10-04","o":2186,"h":2211,"l":2180,"c":2207,"v":955},
      {"d":"2022-10-05","o":2217,"h":2252,"l":2212,"c":2248,"v":1700},
      {"d":"2022-10-06","o":2232,"h":2236,"l":2206,"c":2212,"v":1100},
      {"d":"2022-10-07","o":2197,"h":2200,"l":2170,"c":2176,"v":1040},
      {"d":"2022-10-11","o":2192,"h":2198,"l":2160,"c":2165,"v":1690},
      {"d":"2022-10-12","o":2176,"h":2206,"l":2170,"c":2202,"v":1300},
      {"d":"2022-10-13","o":2192,"h":2222,"l":2186,"c":2217,"v":1500},
      {"d":"2022-10-14","o":2186,"h":2222,"l":2180,"c":2217,"v":1140},
      {"d":"2022-10-17","o":2243,"h":2248,"l":2222,"c":2227,"v":1000},
      {"d":"2022-10-18","o":2243,"h":2268,"l":2238,"c":2263,"v":1050},
      {"d":"2022-10-19","o":2227,"h":2235,"l":2212,"c":2220,"v":2060},
      {"d":"2022-10-20","o":2202,"h":2226,"l":2196,"c":2222,"v":1690},
      {"d":"2022-10-21","o":2232,"h":2236,"l":2212,"c":2217,"v":1100},
      {"d":"2022-10-24","o":2232,"h":2252,"l":2228,"c":2248,"v":955},
      {"d":"2022-10-25","o":2243,"h":2258,"l":2238,"c":2253,"v":1000},
      {"d":"2022-10-26","o":2263,"h":2278,"l":2258,"c":2273,"v":850},
      {"d":"2022-10-27","o":2263,"h":2294,"l":2258,"c":2289,"v":900},
      {"d":"2022-10-28","o":2290,"h":2298,"l":2270,"c":2285,"v":1000},
      {"d":"2022-10-31","o":2279,"h":2300,"l":2275,"c":2294,"v":1050},
      {"d":"2022-11-01","o":2299,"h":2340,"l":2294,"c":2335,"v":955},
      {"d":"2022-11-02","o":2294,"h":2340,"l":2290,"c":2335,"v":1000},
      {"d":"2022-11-03","o":2335,"h":2340,"l":2315,"c":2320,"v":900},
      {"d":"2022-11-04","o":2320,"h":2355,"l":2315,"c":2350,"v":1050},
      {"d":"2022-11-07","o":2355,"h":2375,"l":2350,"c":2371,"v":1140},
      {"d":"2022-11-08","o":2381,"h":2400,"l":2376,"c":2396,"v":1320},
      {"d":"2022-11-09","o":2401,"h":2426,"l":2396,"c":2422,"v":1690},
      {"d":"2022-11-10","o":2420,"h":2430,"l":2405,"c":2416,"v":1410},
      {"d":"2022-11-11","o":2483,"h":2490,"l":2463,"c":2468,"v":1320},
      {"d":"2022-11-14","o":2480,"h":2496,"l":2474,"c":2485,"v":1140},
      {"d":"2022-11-15","o":2485,"h":2492,"l":2466,"c":2475,"v":1250},
      {"d":"2022-11-16","o":2478,"h":2482,"l":2442,"c":2448,"v":1690},
      {"d":"2022-11-17","o":2463,"h":2470,"l":2430,"c":2440,"v":1400},
      {"d":"2022-11-18","o":2453,"h":2458,"l":2428,"c":2432,"v":1140},
      {"d":"2022-11-21","o":2442,"h":2446,"l":2400,"c":2407,"v":1050},
      {"d":"2022-11-22","o":2417,"h":2432,"l":2412,"c":2427,"v":955},
      {"d":"2022-11-23","o":2427,"h":2446,"l":2422,"c":2442,"v":1000},
      {"d":"2022-11-24","o":2437,"h":2440,"l":2402,"c":2407,"v":850},
      {"d":"2022-11-25","o":2396,"h":2436,"l":2392,"c":2432,"v":900},
      {"d":"2022-11-28","o":2422,"h":2458,"l":2418,"c":2453,"v":770},
      {"d":"2022-11-29","o":2432,"h":2478,"l":2428,"c":2473,"v":1050},
      {"d":"2022-11-30","o":2499,"h":2505,"l":2462,"c":2468,"v":850},
      {"d":"2022-12-01","o":2468,"h":2472,"l":2432,"c":2437,"v":770},
      {"d":"2022-12-02","o":2437,"h":2442,"l":2412,"c":2417,"v":800},
      {"d":"2022-12-05","o":2410,"h":2420,"l":2390,"c":2400,"v":770},
      {"d":"2022-12-06","o":2396,"h":2400,"l":2376,"c":2381,"v":700},
      {"d":"2022-12-07","o":2391,"h":2396,"l":2360,"c":2375,"v":800},
      {"d":"2022-12-08","o":2386,"h":2390,"l":2360,"c":2366,"v":850},
      {"d":"2022-12-09","o":2375,"h":2382,"l":2360,"c":2370,"v":770},
      {"d":"2022-12-12","o":2396,"h":2400,"l":2376,"c":2381,"v":700},
      {"d":"2022-12-13","o":2376,"h":2396,"l":2372,"c":2391,"v":800},
      {"d":"2022-12-14","o":2386,"h":2390,"l":2360,"c":2366,"v":850},
      {"d":"2022-12-15","o":2381,"h":2384,"l":2360,"c":2366,"v":770},
      {"d":"2022-12-16","o":2355,"h":2360,"l":2325,"c":2330,"v":700},
      {"d":"2022-12-19","o":2340,"h":2350,"l":2325,"c":2335,"v":750},
      {"d":"2022-12-20","o":2355,"h":2360,"l":2335,"c":2340,"v":800},
      {"d":"2022-12-21","o":2330,"h":2350,"l":2325,"c":2345,"v":700},
      {"d":"2022-12-22","o":2330,"h":2360,"l":2325,"c":2355,"v":650},
      {"d":"2022-12-23","o":2325,"h":2330,"l":2304,"c":2309,"v":770},
      {"d":"2022-12-26","o":2335,"h":2340,"l":2318,"c":2325,"v":700},
      {"d":"2022-12-27","o":2294,"h":2300,"l":2278,"c":2284,"v":650},
      {"d":"2022-12-28","o":2273,"h":2278,"l":2238,"c":2243,"v":800},
      {"d":"2022-12-29","o":2263,"h":2268,"l":2222,"c":2227,"v":850},
      {"d":"2023-01-02","o":2243,"h":2248,"l":2215,"c":2222,"v":770},
      {"d":"2023-01-03","o":2227,"h":2235,"l":2181,"c":2200,"v":700},
      {"d":"2023-01-04","o":2202,"h":2258,"l":2196,"c":2253,"v":750},
      {"d":"2023-01-05","o":2253,"h":2288,"l":2248,"c":2284,"v":800},
      {"d":"2023-01-06","o":2253,"h":2294,"l":2248,"c":2289,"v":850},
      {"d":"2023-01-09","o":2314,"h":2355,"l":2310,"c":2350,"v":900},
      {"d":"2023-01-10","o":2340,"h":2356,"l":2335,"c":2350,"v":800},
      {"d":"2023-01-11","o":2366,"h":2370,"l":2340,"c":2345,"v":850},
      {"d":"2023-01-12","o":2350,"h":2370,"l":2345,"c":2366,"v":770},
      {"d":"2023-01-13","o":2376,"h":2380,"l":2350,"c":2355,"v":1690},
      {"d":"2023-01-16","o":2360,"h":2386,"l":2355,"c":2381,"v":1050},
      {"d":"2023-01-17","o":2381,"h":2400,"l":2376,"c":2396,"v":955},
      {"d":"2023-01-18","o":2391,"h":2396,"l":2370,"c":2376,"v":1050},
      {"d":"2023-01-19","o":2406,"h":2412,"l":2390,"c":2396,"v":900},
      {"d":"2023-01-20","o":2381,"h":2385,"l":2350,"c":2355,"v":955},
      {"d":"2023-01-25","o":2376,"h":2400,"l":2372,"c":2396,"v":900},
      {"d":"2023-01-26","o":2468,"h":2488,"l":2462,"c":2483,"v":1000},
      {"d":"2023-01-27","o":2494,"h":2500,"l":2472,"c":2478,"v":1140},
      {"d":"2023-01-30","o":2473,"h":2476,"l":2448,"c":2453,"v":1140},
      {"d":"2023-01-31","o":2463,"h":2466,"l":2428,"c":2432,"v":1320},
      {"d":"2023-02-01","o":2458,"h":2476,"l":2452,"c":2466,"v":1100},
      {"d":"2023-02-02","o":2468,"h":2488,"l":2462,"c":2483,"v":1050},
      {"d":"2023-02-03","o":2458,"h":2482,"l":2452,"c":2478,"v":1400},
      {"d":"2023-02-06","o":2463,"h":2466,"l":2432,"c":2437,"v":1000},
      {"d":"2023-02-07","o":2445,"h":2452,"l":2432,"c":2440,"v":955},
      {"d":"2023-02-08","o":2468,"h":2488,"l":2462,"c":2483,"v":1050},
      {"d":"2023-02-09","o":2463,"h":2488,"l":2458,"c":2483,"v":1140},
      {"d":"2023-02-10","o":2475,"h":2482,"l":2462,"c":2470,"v":1320},
      {"d":"2023-02-13","o":2468,"h":2472,"l":2448,"c":2453,"v":1000},
      {"d":"2023-02-14","o":2453,"h":2472,"l":2448,"c":2468,"v":955},
      {"d":"2023-02-15","o":2473,"h":2476,"l":2420,"c":2427,"v":900},
      {"d":"2023-02-16","o":2453,"h":2478,"l":2448,"c":2473,"v":1000},
      {"d":"2023-02-17","o":2453,"h":2472,"l":2448,"c":2468,"v":850},
      {"d":"2023-02-20","o":2460,"h":2466,"l":2448,"c":2455,"v":955},
      {"d":"2023-02-21","o":2463,"h":2466,"l":2442,"c":2448,"v":900},
      {"d":"2023-02-22","o":2432,"h":2436,"l":2418,"c":2422,"v":850},
      {"d":"2023-02-23","o":2442,"h":2446,"l":2422,"c":2427,"v":1000},
      {"d":"2023-02-24","o":2425,"h":2432,"l":2412,"c":2420,"v":955},
      {"d":"2023-02-27","o":2412,"h":2432,"l":2408,"c":2427,"v":850},
      {"d":"2023-02-28","o":2427,"h":2442,"l":2422,"c":2437,"v":900},
      {"d":"2023-03-02","o":2437,"h":2440,"l":2418,"c":2422,"v":955},
      {"d":"2023-03-03","o":2453,"h":2472,"l":2448,"c":2468,"v":800},
      {"d":"2023-03-06","o":2463,"h":2468,"l":2455,"c":2460,"v":850},
      {"d":"2023-03-07","o":2442,"h":2446,"l":2412,"c":2417,"v":900},
      {"d":"2023-03-08","o":2432,"h":2436,"l":2412,"c":2417,"v":955},
      {"d":"2023-03-09","o":2396,"h":2405,"l":2385,"c":2390,"v":850},
      {"d":"2023-03-10","o":2396,"h":2400,"l":2376,"c":2381,"v":800},
      {"d":"2023-03-13","o":2391,"h":2395,"l":2345,"c":2350,"v":955},
      {"d":"2023-03-14","o":2375,"h":2386,"l":2362,"c":2370,"v":1000},
      {"d":"2023-03-15","o":2355,"h":2380,"l":2350,"c":2376,"v":900},
      {"d":"2023-03-16","o":2395,"h":2408,"l":2390,"c":2400,"v":850},
      {"d":"2023-03-17","o":2381,"h":2400,"l":2376,"c":2396,"v":955},
      {"d":"2023-03-20","o":2401,"h":2405,"l":2376,"c":2381,"v":900},
      {"d":"2023-03-21","o":2391,"h":2416,"l":2386,"c":2412,"v":800},
      {"d":"2023-03-22","o":2401,"h":2420,"l":2396,"c":2417,"v":850}
    ]
  },
  "layer": [
    {
      "encoding": {
        "x": {
          "field": "d",
          "type": "ordinal",
          "scale": {"paddingInner": 0, "paddingOuter": 0},
          "axis": {
            "values": ["2021-01-04","2021-02-01","2021-03-02","2021-04-01","2021-05-03","2021-06-01","2021-07-01","2021-08-02","2021-09-01","2021-10-01","2021-11-01","2021-12-01","2022-01-03","2022-02-03","2022-03-02","2022-04-01","2022-05-02","2022-06-02","2022-07-01","2022-08-01","2022-09-01","2022-10-04","2022-11-01","2022-12-01","2023-01-02","2023-02-01","2023-03-02"],
            "labelExpr": "datum.value == '2021-01-04' ? '2021' : datum.value == '2022-01-03' ? '2022' : datum.value == '2023-01-02' ? '2023' : (datum.value == '2021-03-02' || datum.value == '2022-03-02') ? '3' : toNumber(substring(datum.value, 5, 7)) + '월'",
            "labelAngle": 0,
            "labelAlign": {"condition": {"test": "datum.value == '2021-01-04'", "value": "left"}, "value": "center"},
            "labelOffset": {"condition": {"test": "datum.value == '2021-01-04'", "value": -5}, "value": 0},
            "labelFontSize": 7,
            "labelColor": "#333333",
            "labelPadding": 0,
            "ticks": true,
            "tickSize": 2,
            "tickColor": "#c8c8c8",
            "domainColor": "#cccccc",
            "domainWidth": 2,
            "grid": false,
            "title": null
          }
        },
        "y": {"type": "quantitative", "scale": {"domain": [-440, 32065], "zero": false, "nice": false}, "axis": null}
      },
      "layer": [
        {
          "mark": {"type": "bar", "width": {"band": 0.9}, "strokeWidth": 0.5},
          "encoding": {
            "y": {"field": "v", "type": "quantitative"},
            "y2": {"datum": 0},
            "color": {"condition": {"test": "datum.c >= datum.o", "value": "#e8a2a4"}, "value": "#a3a3ea"},
            "stroke": {"condition": {"test": "datum.c >= datum.o", "value": "#cf8186"}, "value": "#8181d6"}
          }
        },
        {
          "transform": [{"window": [{"op": "mean", "field": "v", "as": "ma"}], "frame": [-19, 0], "sort": [{"field": "d", "order": "ascending"}]}],
          "mark": {"type": "line", "color": "#858585", "strokeWidth": 1},
          "encoding": {"y": {"field": "ma", "type": "quantitative"}}
        }
      ]
    },
    {
      "encoding": {
        "x": {"field": "d", "type": "ordinal"},
        "y": {"type": "quantitative", "scale": {"domain": [1640.4, 3456.5], "zero": false, "nice": false}, "axis": null}
      },
      "layer": [
        {
          "mark": {"type": "rule", "color": "#9fb0a8", "strokeWidth": 1},
          "encoding": {"y": {"field": "l", "type": "quantitative"}, "y2": {"field": "h"}}
        },
        {
          "mark": {"type": "bar", "width": {"band": 0.72}},
          "encoding": {
            "y": {"field": "o", "type": "quantitative"},
            "y2": {"field": "c"},
            "color": {"condition": {"test": "datum.c >= datum.o", "value": "#9e1c20"}, "value": "#1f67ad"}
          }
        }
      ]
    },
    {
      "data": {"values": [{}]},
      "mark": {"type": "rule", "color": "#555555", "strokeWidth": 1.5},
      "encoding": {"y": {"datum": 2061, "type": "quantitative", "scale": {"domain": [1640.4, 3456.5], "zero": false, "nice": false}, "axis": null}}
    },
    {
      "data": {"values": [{}]},
      "layer": [
        {
          "mark": {"type": "text", "align": "left", "baseline": "middle", "fontSize": 9, "color": "#333333", "dx": 1},
          "encoding": {"x": {"datum": "2020-12-29", "type": "ordinal"}, "text": {"value": "⊟ KOSPI, South Korea, 일, 서울 ▾"}}
        },
        {
          "mark": {"type": "text", "align": "left", "baseline": "middle", "fontSize": 9, "color": "#c4c4c4"},
          "encoding": {"x": {"datum": "2021-04-01", "type": "ordinal"}, "text": {"value": "⊡⊡"}}
        },
        {
          "mark": {"type": "text", "align": "left", "baseline": "middle", "fontSize": 9, "color": "#333333"},
          "encoding": {"x": {"datum": "2021-04-14", "type": "ordinal"}, "text": {"value": "시7873.12  고7886.64  저7780.13  종7847.71"}}
        },
        {
          "mark": {"type": "text", "align": "right", "baseline": "middle", "fontSize": 7, "color": "#777777", "dx": -1},
          "encoding": {"x": {"datum": "2023-03-22", "type": "ordinal"}, "text": {"value": "● Market Closed"}}
        }
      ],
      "encoding": {"y": {"datum": 3426, "type": "quantitative", "scale": {"domain": [1640.4, 3456.5], "zero": false, "nice": false}, "axis": null}}
    },
    {
      "data": {"values": [{}]},
      "layer": [
        {
          "mark": {"type": "text", "align": "left", "baseline": "middle", "fontSize": 11.5, "fontWeight": "bold", "color": "#111111", "dx": 4},
          "encoding": {"x": {"datum": "2020-12-29", "type": "ordinal"}, "text": {"value": "Investing"}}
        },
        {
          "mark": {"type": "text", "align": "left", "baseline": "middle", "fontSize": 8, "color": "#333333", "dy": 1},
          "encoding": {"x": {"datum": "2021-02-03", "type": "ordinal"}, "text": {"value": ".com"}}
        }
      ],
      "encoding": {"y": {"datum": 2101, "type": "quantitative", "scale": {"domain": [1640.4, 3456.5], "zero": false, "nice": false}, "axis": null}}
    },
    {
      "data": {"values": [{}]},
      "layer": [
        {
          "mark": {"type": "text", "align": "left", "baseline": "middle", "fontSize": 7, "color": "#666666"},
          "encoding": {"x": {"datum": "2020-12-29", "type": "ordinal"}, "text": {"value": "거래량 (20) ▾"}}
        },
        {
          "mark": {"type": "text", "align": "left", "baseline": "middle", "fontSize": 8, "color": "#c4c4c4"},
          "encoding": {"x": {"datum": "2021-01-28", "type": "ordinal"}, "text": {"value": "⊙⊡⊠"}}
        },
        {
          "mark": {"type": "text", "align": "left", "baseline": "middle", "fontSize": 7, "color": "#24249e"},
          "encoding": {"x": {"datum": "2021-02-18", "type": "ordinal"}, "text": {"value": "435.533M"}}
        },
        {
          "mark": {"type": "text", "align": "left", "baseline": "middle", "fontSize": 7, "color": "#222222"},
          "encoding": {"x": {"datum": "2021-03-12", "type": "ordinal"}, "text": {"value": "767.063M"}}
        }
      ],
      "encoding": {"y": {"datum": 6600, "type": "quantitative", "scale": {"domain": [-440, 32065], "zero": false, "nice": false}, "axis": null}}
    },
    {
      "data": {"values": [{}]},
      "layer": [
        {
          "mark": {"type": "point", "shape": "circle", "filled": true, "size": 170, "color": "#e4e4e4", "stroke": "#cfcfcf", "strokeWidth": 1, "opacity": 0.95},
          "encoding": {"x": {"datum": "2023-03-16", "type": "ordinal"}}
        },
        {
          "mark": {"type": "text", "align": "center", "baseline": "middle", "fontSize": 10, "color": "#555555"},
          "encoding": {"x": {"datum": "2023-03-16", "type": "ordinal"}, "text": {"value": "»"}}
        }
      ],
      "encoding": {"y": {"datum": 385, "type": "quantitative", "scale": {"domain": [-440, 32065], "zero": false, "nice": false}, "axis": null}}
    }
  ],
  "resolve": {"scale": {"y": "independent"}}
}
